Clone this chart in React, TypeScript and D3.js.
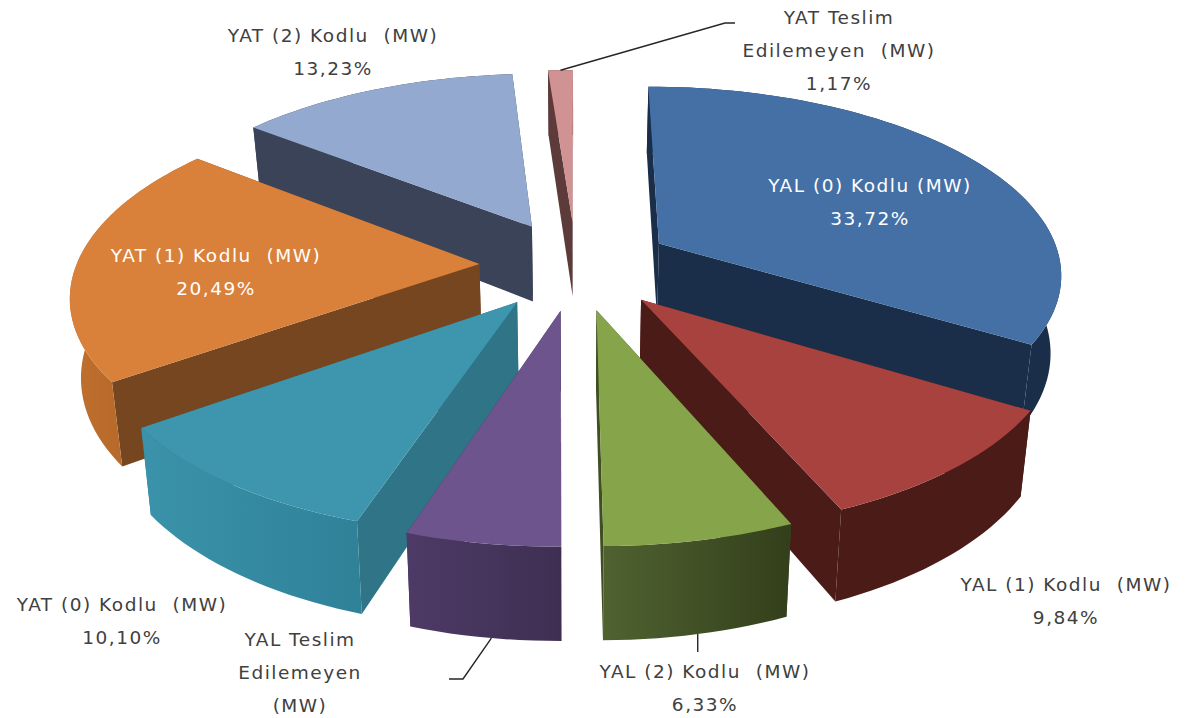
import React from "react";
import * as d3 from "d3";

const shares = [33.72, 9.84, 6.33, 5.12, 10.1, 20.49, 13.23, 1.17];
const topColors = ["#4470a6", "#a8423f", "#86a44a", "#6e548d", "#3d96ae", "#d9813a", "#93a9cf", "#d09292"];
const cutColors = ["#1a2e49", "#4a1b17", "#3f4f22", "#3e2f52", "#2f7587", "#754620", "#3a4358", "#5e3b3b"];
const wallStart = ["#1a2e49", "#4a1b17", "#4f6230", "#4d3a66", "#3a93aa", "#c0702e", "#3a4358", "#5e3b3b"];
const wallEnd = ["#1a2e49", "#4a1b17", "#333f1b", "#3e2f52", "#2f8198", "#a85f26", "#3a4358", "#5e3b3b"];
const drawOrder = [7, 6, 0, 5, 1, 4, 2, 3];

const labelLines = [
  ["YAL (0) Kodlu (MW)", "33,72%"],
  ["YAL (1) Kodlu\u00a0 (MW)", "9,84%"],
  ["YAL (2) Kodlu\u00a0 (MW)", "6,33%"],
  ["YAL Teslim", "Edilemeyen", "(MW)"],
  ["YAT (0) Kodlu\u00a0 (MW)", "10,10%"],
  ["YAT (1) Kodlu\u00a0 (MW)", "20,49%"],
  ["YAT (2) Kodlu\u00a0 (MW)", "13,23%"],
  ["YAT Teslim", "Edilemeyen\u00a0 (MW)", "1,17%"],
];
const labelX = [870, 1066, 705, 300, 122, 216, 333, 839];
const labelY = [192, 591, 678, 646, 611, 262, 42, 24];
const labelFill = ["#ffffff", "#404040", "#404040", "#404040", "#404040", "#ffffff", "#404040", "#404040"];

const W = 1189, H = 718;
const cx = 576, cy = 265, rx = 403, ry = 186, persp = 0.148, explode = 0.24, lift = 77, converge = 0.978;

const project = (wx: number, wy: number, down = 0): [number, number] => {
  const s = 1 / (1 - persp * wy);
  const X = rx * wx * s;
  const Y = ry * wy * s;
  if (!down) return [cx + X, cy + Y];
  return [cx + X * converge, cy + Y + lift * s];
};

const pie = d3.pie<number>().sort(null).value((d) => d)(shares);
const line = d3.line();

const arcPoints = (a0: number, a1: number, e: number, down: boolean) => {
  const mid = (a0 + a1) / 2;
  const ox = e * Math.sin(mid), oy = -e * Math.cos(mid);
  const n = Math.max(4, Math.ceil((a1 - a0) / 0.03));
  return d3.range(n + 1).map((i) => {
    const a = a0 + ((a1 - a0) * i) / n;
    return project(ox + Math.sin(a), oy - Math.cos(a), down ? 1 : 0);
  });
};

// rim point of a slice closest to a screen x, to anchor a leader line on
const rimAt = (i: number, down: boolean, x: number): [number, number] => {
  const pts = arcPoints(pie[i].startAngle, pie[i].endAngle, explode, down);
  return pts[d3.leastIndex(pts, (a, b) => Math.abs(a[0] - x) - Math.abs(b[0] - x))!];
};

export default function App() {
  const greenRim = rimAt(2, true, 699);
  return (
    <svg width={W} height={H} style={{ position: "absolute", left: 0, top: 0, background: "#fff" }}
      fontFamily="'DejaVu Sans', sans-serif" fontSize={18.5} letterSpacing={1.5}>
      <defs>
        {shares.map((_, i) => (
          <linearGradient key={i} id={`wall${i}`} x1="0" x2="1" y1="0" y2="0">
            <stop offset="0" stopColor={wallStart[i]} />
            <stop offset="1" stopColor={wallEnd[i]} />
          </linearGradient>
        ))}
      </defs>
      <g>
        {drawOrder.map((i) => {
          const p = pie[i];
          const a0 = p.startAngle, a1 = p.endAngle, mid = (a0 + a1) / 2;
          const ox = explode * Math.sin(mid), oy = -explode * Math.cos(mid);
          const apex = project(ox, oy), apexDown = project(ox, oy, 1);
          const top = arcPoints(a0, a1, explode, false);
          const bottom = arcPoints(a0, a1, explode, true);
          const cut0: [number, number][] = [apex, top[0], bottom[0], apexDown];
          const cut1: [number, number][] = [apex, top[top.length - 1], bottom[bottom.length - 1], apexDown];
          const wall = [...top, ...[...bottom].reverse()] as [number, number][];
          const face = [apex, ...top] as [number, number][];
          return (
            <g key={i}>
              <path d={line(cut0)! + "Z"} fill={cutColors[i]} />
              <path d={line(cut1)! + "Z"} fill={cutColors[i]} />
              <path d={line(wall)! + "Z"} fill={`url(#wall${i})`} />
              <path d={line(face)! + "Z"} fill={topColors[i]} />
            </g>
          );
        })}
      </g>
      <g fill="none" stroke="#262626" strokeWidth={1.4}>
        <path d={line([rimAt(7, false, 561), [725, 23], [735, 23]])!} />
        <path d={line([rimAt(3, true, 485), [463, 679], [449, 679]])!} />
        <path d={line([greenRim, [greenRim[0], 652]])!} />
      </g>
      <g textAnchor="middle">
        {labelLines.map((ls, i) => (
          <text key={i} fill={labelFill[i]} x={labelX[i]} y={labelY[i]}>
            {ls.map((t, j) => (
              <tspan key={j} x={labelX[i]} dy={j === 0 ? 0 : 33}>{t}</tspan>
            ))}
          </text>
        ))}
      </g>
    </svg>
  );
}
